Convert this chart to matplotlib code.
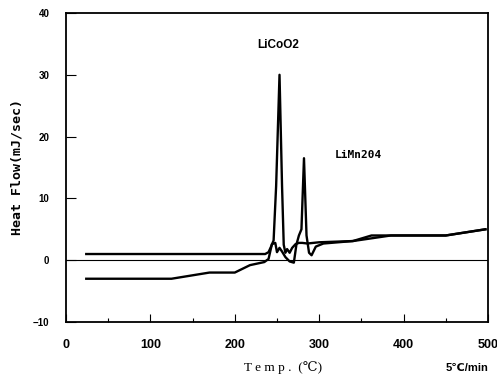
import matplotlib
matplotlib.use("Agg")
import matplotlib.pyplot as plt
from matplotlib.ticker import MultipleLocator

# DSC curves (temperature in C, heat flow in mJ/sec)
licoo2_t = [24, 120, 200, 236, 240, 243, 246, 249, 253, 256, 258, 260, 262, 265,
            268, 272, 276, 280, 286, 300, 340, 362, 400, 450, 497]
licoo2_q = [1.0, 1.0, 1.0, 1.0, 1.3, 2.2, 3.2, 12.0, 30.0, 12.0, 2.5, 1.2, 1.8, 1.2,
            2.0, 2.6, 2.8, 2.8, 2.7, 2.9, 3.1, 4.0, 4.0, 4.0, 5.0]

limn2o4_t = [24, 125, 170, 200, 218, 235, 240, 244, 248, 250, 253, 256, 260, 265,
             270, 273, 276, 279, 282, 285, 288, 291, 296, 305, 340, 385, 450, 497]
limn2o4_q = [-3.0, -3.0, -2.0, -2.0, -0.8, -0.3, 0.2, 2.6, 2.8, 1.3, 2.0, 1.4, 0.5, -0.2,
             -0.4, 2.5, 4.0, 5.0, 16.5, 4.0, 1.2, 0.8, 2.2, 2.7, 3.1, 4.0, 4.0, 5.0]

fig = plt.figure(figsize=(4.97, 3.79), dpi=100)
ax = fig.add_axes([0.1328, 0.1504, 0.849, 0.8153])

ax.plot(licoo2_t, licoo2_q, color="black", lw=1.7)
ax.plot(limn2o4_t, limn2o4_q, color="black", lw=1.7)
ax.axhline(0, color="black", lw=0.8)

ax.set_xlim(0, 500)
ax.set_ylim(-10, 40)
ax.xaxis.set_major_locator(MultipleLocator(100))
ax.xaxis.set_minor_locator(MultipleLocator(50))
ax.yaxis.set_major_locator(MultipleLocator(10))
ax.tick_params(axis="x", which="major", direction="in", length=6, width=0.8, pad=12)
ax.tick_params(axis="x", which="minor", direction="in", length=3, width=0.8)
ax.tick_params(axis="y", which="major", direction="in", length=7, width=0.8, pad=12)
for lab in ax.get_xticklabels():
    lab.set_fontsize(9)
    lab.set_fontweight("bold")
    lab.set_family("Liberation Sans")
for lab in ax.get_yticklabels():
    lab.set_fontsize(7)
    lab.set_fontweight("bold")
    lab.set_family("Liberation Sans")
for s in ax.spines.values():
    s.set_linewidth(1.3)

ax.set_ylabel("Heat Flow(mJ/sec)", fontsize=9.5, fontweight="bold",
              family="DejaVu Sans Mono", labelpad=7)
fig.text(0.57, 0.03, "T e m p .  (\u2103)", fontsize=9.5, family=["Liberation Serif", "DejaVu Serif"],
         ha="center", va="center")
fig.text(0.983, 0.03, "5\u2103/min", fontsize=8, fontweight="bold",
         family=["Liberation Sans", "DejaVu Sans"], ha="right", va="center")

ax.text(251, 34.8, "LiCoO2", fontsize=8.5, fontweight="bold", family="Liberation Sans",
        ha="center", va="center")
ax.text(346, 17, "LiMn204", fontsize=8, fontweight="bold", family="DejaVu Sans Mono",
        ha="center", va="center")

fig.savefig("out.png", dpi=100)
